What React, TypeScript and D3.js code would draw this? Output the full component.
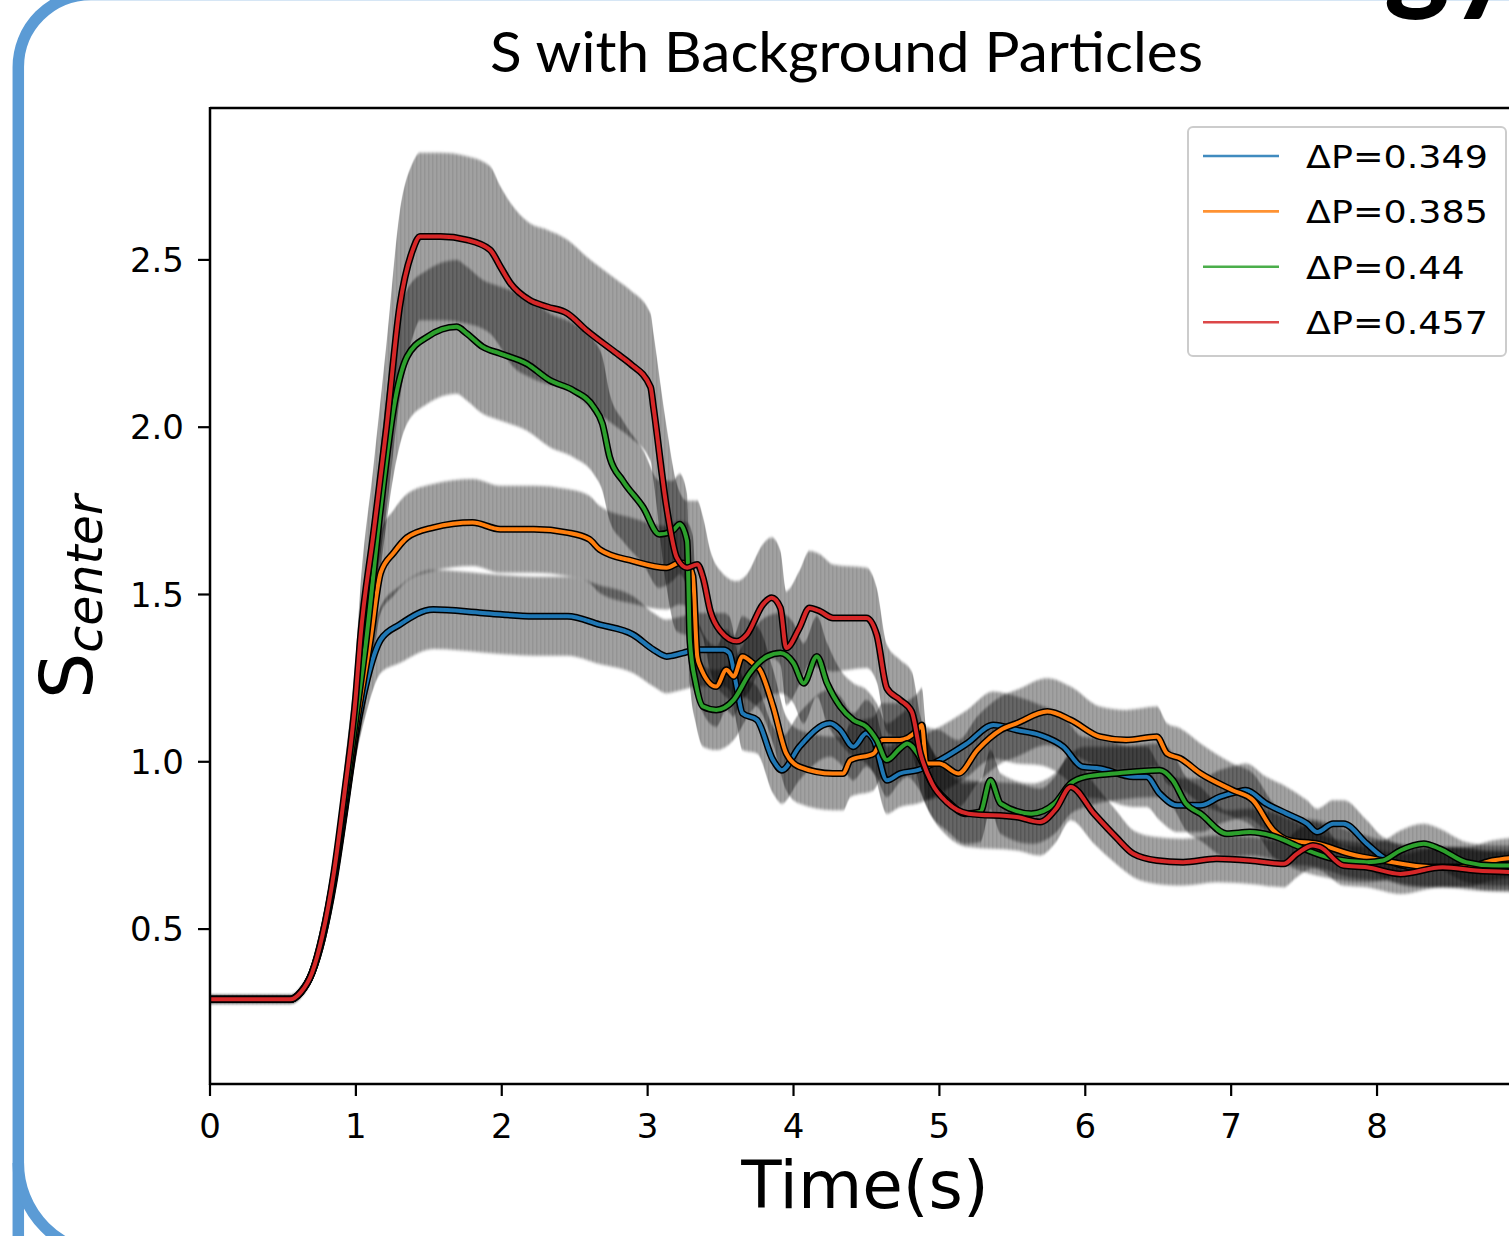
import React from "react";
import * as d3 from "d3";

type Pt = [number, number, number]; // [time, mean S, spread]

const xTicks = [0, 1, 2, 3, 4, 5, 6, 7, 8];
const yTicks = [0.5, 1.0, 1.5, 2.0, 2.5];
const seriesNames = ["ΔP=0.349", "ΔP=0.385", "ΔP=0.44", "ΔP=0.457"];
const seriesColors = ["#1f77b4", "#ff7f0e", "#2ca02c", "#d62728"];

const blueData: Pt[] = [
  [0, 0.29, 0.012], [0.3, 0.29, 0.012], [0.55, 0.29, 0.012], [0.62, 0.31, 0.015], [0.7, 0.37, 0.02],
  [0.77, 0.47, 0.03], [0.85, 0.64, 0.04], [0.92, 0.84, 0.05], [1.0, 1.08, 0.07], [1.08, 1.25, 0.09],
  [1.17, 1.365, 0.1], [1.3, 1.41, 0.115], [1.53, 1.455, 0.118], [1.87, 1.445, 0.118], [2.22, 1.435, 0.118],
  [2.45, 1.435, 0.118], [2.67, 1.41, 0.118], [2.9, 1.38, 0.115], [3.04, 1.335, 0.11], [3.13, 1.315, 0.11],
  [3.24, 1.325, 0.11], [3.34, 1.335, 0.11], [3.52, 1.335, 0.11], [3.56, 1.325, 0.11], [3.61, 1.225, 0.11],
  [3.65, 1.145, 0.11], [3.75, 1.125, 0.1], [3.86, 1.005, 0.1], [3.92, 0.975, 0.1], [4.04, 1.045, 0.1],
  [4.25, 1.115, 0.1], [4.32, 1.095, 0.1], [4.41, 1.045, 0.1], [4.5, 1.085, 0.1], [4.55, 1.065, 0.1],
  [4.64, 0.945, 0.1], [4.73, 0.965, 0.1], [4.85, 0.975, 0.1], [4.96, 0.995, 0.1], [5.19, 1.055, 0.1],
  [5.37, 1.11, 0.1], [5.53, 1.095, 0.1], [5.69, 1.08, 0.09], [5.85, 1.045, 0.09], [5.98, 0.985, 0.09],
  [6.1, 0.98, 0.09], [6.33, 0.955, 0.09], [6.42, 0.955, 0.09], [6.51, 0.905, 0.08], [6.63, 0.87, 0.08],
  [6.79, 0.87, 0.08], [6.92, 0.895, 0.08], [7.04, 0.91, 0.08], [7.1, 0.915, 0.08], [7.24, 0.875, 0.08],
  [7.38, 0.845, 0.08], [7.52, 0.815, 0.07], [7.59, 0.79, 0.07], [7.7, 0.815, 0.07], [7.77, 0.815, 0.07],
  [7.93, 0.755, 0.07], [8.04, 0.715, 0.06], [8.27, 0.685, 0.06], [8.61, 0.685, 0.06], [8.75, 0.675, 0.06],
  [8.98, 0.675, 0.06],
];

const orangeData: Pt[] = [
  [0, 0.29, 0.012], [0.3, 0.29, 0.012], [0.55, 0.29, 0.012], [0.62, 0.31, 0.015], [0.7, 0.37, 0.02],
  [0.77, 0.47, 0.03], [0.85, 0.65, 0.05], [0.92, 0.85, 0.07], [1.0, 1.1, 0.09], [1.1, 1.365, 0.11],
  [1.17, 1.565, 0.12], [1.26, 1.625, 0.128], [1.35, 1.67, 0.13], [1.53, 1.7, 0.13], [1.8, 1.715, 0.13],
  [1.99, 1.695, 0.13], [2.22, 1.695, 0.13], [2.45, 1.685, 0.13], [2.6, 1.665, 0.13], [2.67, 1.635, 0.13],
  [2.9, 1.6, 0.128], [3.13, 1.58, 0.125], [3.22, 1.595, 0.125], [3.27, 1.59, 0.125], [3.31, 1.555, 0.12],
  [3.34, 1.315, 0.12], [3.36, 1.285, 0.12], [3.47, 1.225, 0.12], [3.54, 1.275, 0.12], [3.59, 1.255, 0.12],
  [3.65, 1.315, 0.12], [3.72, 1.295, 0.12], [3.77, 1.275, 0.12], [3.86, 1.165, 0.11], [3.95, 1.025, 0.11],
  [4.04, 0.985, 0.11], [4.27, 0.965, 0.11], [4.34, 0.965, 0.11], [4.39, 1.005, 0.11], [4.55, 1.025, 0.11],
  [4.61, 1.065, 0.11], [4.73, 1.065, 0.11], [4.85, 1.095, 0.11], [4.88, 1.11, 0.11], [4.91, 0.995, 0.11],
  [5.0, 0.995, 0.1], [5.13, 0.965, 0.1], [5.26, 1.035, 0.1], [5.42, 1.095, 0.1], [5.53, 1.115, 0.1],
  [5.74, 1.15, 0.1], [5.9, 1.125, 0.1], [6.1, 1.075, 0.09], [6.28, 1.065, 0.09], [6.49, 1.075, 0.09],
  [6.56, 1.025, 0.09], [6.65, 1.01, 0.09], [6.79, 0.965, 0.09], [7.01, 0.915, 0.08], [7.15, 0.885, 0.08],
  [7.29, 0.795, 0.08], [7.4, 0.765, 0.07], [7.59, 0.755, 0.07], [7.81, 0.725, 0.07], [8.04, 0.705, 0.06],
  [8.38, 0.685, 0.06], [8.61, 0.685, 0.06], [8.79, 0.705, 0.06], [8.98, 0.715, 0.06],
];

const greenData: Pt[] = [
  [0, 0.29, 0.012], [0.3, 0.29, 0.012], [0.55, 0.29, 0.012], [0.62, 0.31, 0.015], [0.7, 0.37, 0.02],
  [0.77, 0.48, 0.03], [0.85, 0.66, 0.05], [0.92, 0.87, 0.08], [1.0, 1.13, 0.11], [1.07, 1.36, 0.14],
  [1.17, 1.76, 0.18], [1.26, 2.06, 0.2], [1.35, 2.21, 0.2], [1.49, 2.27, 0.2], [1.69, 2.3, 0.2],
  [1.76, 2.28, 0.2], [1.87, 2.24, 0.2], [1.99, 2.22, 0.2], [2.17, 2.19, 0.2], [2.33, 2.14, 0.2],
  [2.49, 2.11, 0.2], [2.63, 2.06, 0.2], [2.69, 2.01, 0.2], [2.74, 1.91, 0.19], [2.83, 1.84, 0.18],
  [2.97, 1.76, 0.17], [3.08, 1.68, 0.16], [3.17, 1.69, 0.15], [3.22, 1.71, 0.15], [3.27, 1.66, 0.14],
  [3.29, 1.36, 0.13], [3.33, 1.235, 0.12], [3.38, 1.165, 0.12], [3.47, 1.155, 0.12], [3.59, 1.185, 0.12],
  [3.7, 1.265, 0.12], [3.82, 1.315, 0.12], [3.91, 1.325, 0.12], [4.0, 1.295, 0.12], [4.07, 1.235, 0.12],
  [4.16, 1.315, 0.12], [4.23, 1.235, 0.12], [4.32, 1.165, 0.11], [4.41, 1.125, 0.11], [4.5, 1.105, 0.11],
  [4.57, 1.065, 0.11], [4.64, 1.005, 0.11], [4.73, 1.04, 0.1], [4.78, 1.055, 0.1], [4.85, 1.025, 0.1],
  [4.95, 0.935, 0.1], [5.05, 0.885, 0.09], [5.18, 0.845, 0.09], [5.28, 0.85, 0.09], [5.35, 0.945, 0.09],
  [5.42, 0.875, 0.09], [5.63, 0.845, 0.09], [5.79, 0.875, 0.09], [5.9, 0.935, 0.09], [6.0, 0.955, 0.09],
  [6.2, 0.965, 0.08], [6.51, 0.975, 0.08], [6.6, 0.945, 0.08], [6.69, 0.875, 0.08], [6.79, 0.845, 0.08],
  [6.97, 0.785, 0.07], [7.13, 0.79, 0.07], [7.31, 0.775, 0.07], [7.47, 0.745, 0.07], [7.7, 0.71, 0.06],
  [7.93, 0.7, 0.06], [8.04, 0.705, 0.06], [8.16, 0.735, 0.06], [8.32, 0.755, 0.06], [8.43, 0.74, 0.06],
  [8.61, 0.7, 0.06], [8.79, 0.69, 0.06], [8.98, 0.69, 0.06],
];

const redData: Pt[] = [
  [0, 0.29, 0.012], [0.3, 0.29, 0.012], [0.55, 0.29, 0.012], [0.62, 0.31, 0.015], [0.7, 0.37, 0.02],
  [0.77, 0.48, 0.03], [0.85, 0.67, 0.05], [0.92, 0.9, 0.08], [1.0, 1.2, 0.12], [1.03, 1.365, 0.15],
  [1.12, 1.68, 0.2], [1.21, 2.0, 0.25], [1.3, 2.36, 0.28], [1.39, 2.53, 0.26], [1.44, 2.57, 0.25],
  [1.58, 2.57, 0.25], [1.76, 2.56, 0.25], [1.92, 2.53, 0.25], [1.99, 2.48, 0.24], [2.06, 2.43, 0.24],
  [2.19, 2.38, 0.23], [2.31, 2.36, 0.23], [2.45, 2.34, 0.22], [2.58, 2.29, 0.22], [2.79, 2.22, 0.22],
  [2.88, 2.19, 0.22], [3.02, 2.12, 0.22], [3.04, 2.06, 0.22], [3.13, 1.76, 0.24], [3.2, 1.61, 0.22],
  [3.27, 1.58, 0.2], [3.34, 1.59, 0.19], [3.38, 1.55, 0.18], [3.43, 1.45, 0.18], [3.5, 1.39, 0.18],
  [3.61, 1.36, 0.18], [3.68, 1.38, 0.18], [3.79, 1.47, 0.18], [3.85, 1.49, 0.18], [3.91, 1.46, 0.17],
  [3.95, 1.34, 0.17], [4.04, 1.4, 0.17], [4.11, 1.46, 0.17], [4.18, 1.45, 0.17], [4.27, 1.43, 0.16],
  [4.5, 1.43, 0.15], [4.57, 1.38, 0.14], [4.64, 1.22, 0.13], [4.73, 1.185, 0.12], [4.81, 1.15, 0.12],
  [4.87, 1.025, 0.11], [4.95, 0.935, 0.1], [5.05, 0.88, 0.1], [5.2, 0.845, 0.1], [5.53, 0.835, 0.1],
  [5.69, 0.82, 0.1], [5.8, 0.86, 0.1], [5.9, 0.925, 0.1], [6.06, 0.845, 0.09], [6.21, 0.775, 0.08],
  [6.33, 0.725, 0.07], [6.49, 0.705, 0.07], [6.67, 0.7, 0.07], [6.9, 0.71, 0.07], [7.13, 0.705, 0.07],
  [7.36, 0.695, 0.07], [7.45, 0.725, 0.07], [7.56, 0.75, 0.07], [7.61, 0.745, 0.07], [7.77, 0.69, 0.06],
  [7.93, 0.685, 0.06], [8.16, 0.665, 0.06], [8.45, 0.685, 0.06], [8.68, 0.675, 0.06], [8.98, 0.67, 0.06],
];

const allSeries = [blueData, orangeData, greenData, redData];

const W = 1509;
const H = 1236;
const AX = { left: 210, right: 1520, top: 108, bottom: 1084 };
const TICK_FONT = "'DejaVu Sans', sans-serif";

export default function App() {
  const x = d3.scaleLinear().domain([0, 8.98]).range([AX.left, AX.right]);
  const y = d3.scaleLinear().domain([0.037, 2.954]).range([AX.bottom, AX.top]);

  const area = d3
    .area<Pt>()
    .x((d) => x(d[0]))
    .y0((d) => y(d[1] - d[2]))
    .y1((d) => y(d[1] + d[2]))
    .curve(d3.curveMonotoneX);
  const line = d3
    .line<Pt>()
    .x((d) => x(d[0]))
    .y((d) => y(d[1]))
    .curve(d3.curveMonotoneX);

  const legendY0 = 156;
  const legendStep = 55.4;

  return (
    <svg
      width={W}
      height={H}
      viewBox={`0 0 ${W} ${H}`}
      style={{ position: "absolute", left: 0, top: 0, background: "#fff", overflow: "hidden" }}
    >
      <defs>
        <clipPath id="plotClip">
          <rect x={AX.left} y={AX.top} width={AX.right - AX.left} height={AX.bottom - AX.top} />
        </clipPath>
        <pattern id="stripes" width={4} height={8} patternUnits="userSpaceOnUse">
          <rect width={4} height={8} fill="#000" fillOpacity={0.37} />
          <rect width={1.5} height={8} fill="#000" fillOpacity={0.08} />
        </pattern>
        <filter id="soft" x="-5%" y="-5%" width="110%" height="110%">
          <feGaussianBlur stdDeviation="0.4 1.6" />
        </filter>
      </defs>

      {/* slide frame */}
      <path
        d={`M 18.3 1300 L 18.3 1163 M 18.3 1163 L 18.3 67 A 72.6 72.6 0 0 1 90.9 -5.6 L 1600 -5.6`}
        fill="none"
        stroke="#5B9BD5"
        strokeWidth={11.5}
      />
      <path
        d={`M 18.3 1163 A 90.9 90.9 0 0 0 109.2 1253.9 L 1600 1253.9`}
        fill="none"
        stroke="#5B9BD5"
        strokeWidth={11.5}
      />

      {/* cut-off slide heading (only its lowest part is on the slide crop) */}
      <text
        x={1516}
        y={-2}
        textAnchor="end"
        fontFamily="Lato, 'Open Sans', sans-serif"
        fontWeight={900}
        fontSize={124}
        fill="#000"
      >
        Strategy
      </text>

      {/* chart title */}
      <text
        x={490}
        y={72}
        fontFamily="Lato, 'Open Sans', sans-serif"
        fontSize={56}
        fill="#000"
        textLength={713}
        lengthAdjust="spacingAndGlyphs"
      >
        S with Background Particles
      </text>

      {/* bands */}
      <g clipPath="url(#plotClip)">
        <g filter="url(#soft)">
          {allSeries.map((s, i) => (
            <path key={"band" + i} d={area(s) || ""} fill="url(#stripes)" />
          ))}
        </g>
        {allSeries.map((s, i) => (
          <g key={"line" + i}>
            <path d={line(s) || ""} fill="none" stroke="#000" strokeWidth={7} strokeLinejoin="round" />
            <path
              d={line(s) || ""}
              fill="none"
              stroke={seriesColors[i]}
              strokeWidth={4}
              strokeLinejoin="round"
            />
          </g>
        ))}
      </g>

      {/* spines */}
      <g stroke="#000" strokeWidth={2.5} fill="none">
        <line x1={AX.left} x2={AX.left} y1={AX.top - 1} y2={AX.bottom + 1} />
        <line x1={AX.left} x2={AX.right} y1={AX.bottom} y2={AX.bottom} />
        <line x1={AX.left} x2={AX.right} y1={AX.top} y2={AX.top} />
      </g>

      {/* x ticks */}
      {xTicks.map((t) => (
        <g key={"xt" + t}>
          <line x1={x(t)} x2={x(t)} y1={AX.bottom} y2={AX.bottom + 12} stroke="#000" strokeWidth={2.2} />
          <text
            x={x(t)}
            y={1138}
            textAnchor="middle"
            fontFamily={TICK_FONT}
            fontSize={34}
            fill="#000"
          >
            {t}
          </text>
        </g>
      ))}

      {/* y ticks */}
      {yTicks.map((v) => (
        <g key={"yt" + v}>
          <line x1={AX.left - 12} x2={AX.left} y1={y(v)} y2={y(v)} stroke="#000" strokeWidth={2.2} />
          <text
            x={184}
            y={y(v)}
            dy="0.36em"
            textAnchor="end"
            fontFamily={TICK_FONT}
            fontSize={34}
            fill="#000"
          >
            {v.toFixed(1)}
          </text>
        </g>
      ))}

      {/* axis labels */}
      <text
        x={(AX.left + AX.right) / 2}
        y={1208}
        textAnchor="middle"
        fontFamily={TICK_FONT}
        fontSize={66}
        fill="#000"
      >
        Time(s)
      </text>
      <text
        transform={`translate(92, 597) rotate(-90)`}
        textAnchor="middle"
        fontFamily={TICK_FONT}
        fontSize={73}
        fill="#000"
      >
        S
        <tspan fontStyle="italic" fontSize={49} dy={10}>
          center
        </tspan>
      </text>

      {/* legend */}
      <rect
        x={1188}
        y={127}
        width={318}
        height={229}
        rx={5}
        fill="#fff"
        fillOpacity={0.85}
        stroke="#cccccc"
        strokeWidth={2}
      />
      {seriesNames.map((name, i) => {
        const ly = legendY0 + i * legendStep;
        return (
          <g key={"lg" + i}>
            <line x1={1203} x2={1279} y1={ly} y2={ly} stroke={seriesColors[i]} strokeWidth={2.6} strokeOpacity={0.85} />
            <text
              transform={`translate(1306, ${ly + 12}) scale(1.14, 1)`}
              fontFamily={TICK_FONT}
              fontSize={32}
              fill="#000"
            >
              {name}
            </text>
          </g>
        );
      })}
    </svg>
  );
}
